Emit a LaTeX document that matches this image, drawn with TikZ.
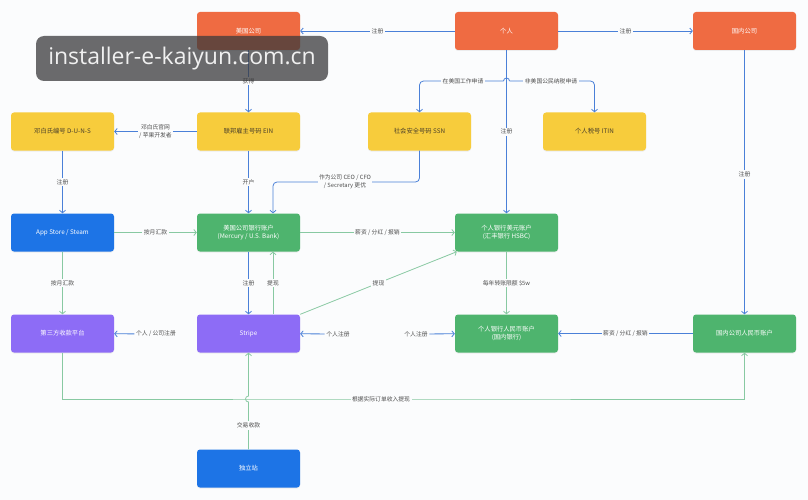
\documentclass[tikz,border=0pt]{standalone}
\usepackage{fontspec}
\setmainfont{Noto Sans CJK SC}
\newfontfamily\wmfont{Open Sans}
\usetikzlibrary{arrows.meta,shadows}
\definecolor{bgcol}{HTML}{FBFCFD}
\definecolor{cOrange}{HTML}{EF6B42}
\definecolor{cYellow}{HTML}{F7CC3C}
\definecolor{cGreen}{HTML}{4EB46E}
\definecolor{cBlue}{HTML}{1D74E6}
\definecolor{cPurple}{HTML}{8D6CF6}
\definecolor{cArrowB}{HTML}{4A80D8}
\definecolor{cArrowG}{HTML}{88C9A2}
\definecolor{cLabel}{HTML}{4E4E4E}
\definecolor{cYText}{HTML}{4A3F2A}
\definecolor{cWM}{HTML}{3A3A3C}
\tikzset{
  box/.style={rounded corners=3pt, minimum width=103pt, minimum height=38pt, inner sep=0pt,
    align=center, font=\fontsize{6.3}{8.5}\selectfont,
    drop shadow={opacity=0.12, shadow xshift=0pt, shadow yshift=-1pt}},
  orangebox/.style={box, fill=cOrange, text=white},
  yellowbox/.style={box, fill=cYellow, text=cYText},
  greenbox/.style={box, fill=cGreen, text=white},
  bluebox/.style={box, fill=cBlue, text=white},
  purplebox/.style={box, fill=cPurple, text=white},
  lbl/.style={fill=bgcol, inner sep=1.5pt, font=\fontsize{5.8}{7.8}\selectfont, text=cLabel, align=center},
  ba/.style={draw=cArrowB, line width=0.8pt, -{Straight Barb[length=2.5pt,width=6pt]}},
  ga/.style={draw=cArrowG, line width=0.8pt, -{Straight Barb[length=2.5pt,width=6pt]}},
}
\begin{document}
\begin{tikzpicture}[x=1pt,y=-1pt]
\fill[bgcol] (0,0) rectangle (808,500);
\useasboundingbox (0,0) rectangle (808,500);

% row 1
\node[orangebox] (usco)   at (248.5,31) {美国公司};
\node[orangebox] (person) at (506.5,31) {个人};
\node[orangebox] (cnco)   at (744.5,31) {国内公司};
% row 2
\node[yellowbox] (duns) at (62.5,131.5) {邓白氏编号 D-U-N-S};
\node[yellowbox] (ein)  at (248.5,131.5) {联邦雇主号码 EIN};
\node[yellowbox] (ssn)  at (419.5,131.5) {社会安全号码 SSN};
\node[yellowbox] (itin) at (594.5,131.5) {个人税号 ITIN};
% row 3
\node[bluebox]  (appstore) at (62.5,232.5) {App Store / Steam};
\node[greenbox] (usbank)   at (248.5,232.5) {美国公司银行账户\\(Mercury / U.S. Bank)};
\node[greenbox] (usdacct)  at (506.5,232.5) {个人银行美元账户\\(汇丰银行 HSBC)};
% row 4
\node[purplebox] (third)   at (62.5,333.5) {第三方收款平台};
\node[purplebox] (stripe)  at (248.5,333.5) {Stripe};
\node[greenbox]  (rmbacct) at (506.5,333.5) {个人银行人民币账户\\(国内银行)};
\node[greenbox]  (cnacct)  at (744.5,333.5) {国内公司人民币账户};
% row 5
\node[bluebox] (indep) at (248.5,468.5) {独立站};

% helper coordinates
\coordinate (split) at (506.5,81);
\coordinate (k1) at (273,182);
\coordinate (k2) at (400,399);
\coordinate (hopB) at (248.5,399);

% connectors
\draw[ba] (person) -- node[lbl]{注册} (usco);
\draw[ba] (person) -- node[lbl]{注册} (cnco);
\draw[ba] (usco) -- node[lbl]{获得} (ein);
\draw[ba] (ein) -- node[lbl]{邓白氏官网\\/ 苹果开发者} (duns);
\draw[ba] (duns) -- node[lbl]{注册} (appstore);
\draw[ba] (ein) -- node[lbl]{开户} (usbank);
\draw[ba, rounded corners=4pt] (ssn.south) |- (k1) -- (usbank.north -| k1);
\node[lbl] at (345,182) {作为公司 CEO / CFO\\/ Secretary 更优};

\draw[ba] (person) -- node[lbl]{注册} (usdacct);
\draw[ba, rounded corners=4pt] ([xshift=-3pt]split) -| (ssn.north);
\draw[ba, rounded corners=4pt] ([xshift=3pt]split) -| (itin.north);
\draw[draw=cArrowB, line width=0.8pt] ([xshift=-3pt]split) arc (180:0:3pt);
\node[lbl] at (463,81) {在美国工作申请};
\node[lbl] at (551,81) {非美国公民纳税申请};

\draw[ga] (appstore) -- node[lbl]{按月汇款} (usbank);
\draw[ga] (appstore) -- node[lbl]{按月汇款} (third);
\draw[ga] (usbank) -- node[lbl]{薪资 / 分红 / 报销} (usdacct);
\draw[ba] (usbank) -- node[lbl]{注册} (stripe);
\draw[ga] ([xshift=24.5pt]stripe.north) -- node[lbl]{提现} ([xshift=24.5pt]usbank.south);
\draw[ga] (stripe.north east) -- node[lbl]{提现} ([xshift=2pt]usdacct.south west);

\node[lbl] (reg2) at (156,334) {个人 / 公司注册};
\draw[ba] (reg2) -- (third);
\node[lbl] (reg1) at (338,334) {个人注册};
\draw[ba] (reg1) -- (stripe);
\node[lbl] (reg3) at (416,334) {个人注册};
\draw[ba] (reg3) -- (rmbacct);

\draw[ga] (usdacct) -- node[lbl]{每年转账限额 \$5w} (rmbacct);
\draw[ba] (cnco) -- node[lbl,pos=0.47]{注册} (cnacct);
\draw[ba] (cnacct) -- node[lbl]{薪资 / 分红 / 报销} (rmbacct);

\draw[ga] (third.south) |- (k2) -| (cnacct.south);
\node[lbl] at (381,399) {根据实际订单收入提现};
\draw[ga] (indep.north) -- node[lbl]{交易收款} ([yshift=-3pt]hopB) arc (-90:-270:3pt) -- (stripe.south);

% watermark
\node[fill=cWM, fill opacity=0.75, text opacity=1, text=white!94!black, rounded corners=8pt,
  minimum width=292pt, minimum height=45pt, inner sep=0pt, font=\wmfont\fontsize{23}{26}\selectfont]
  (wm) at (182,58.5) {installer-e-kaiyun.com.cn};
\end{tikzpicture}
\end{document}
